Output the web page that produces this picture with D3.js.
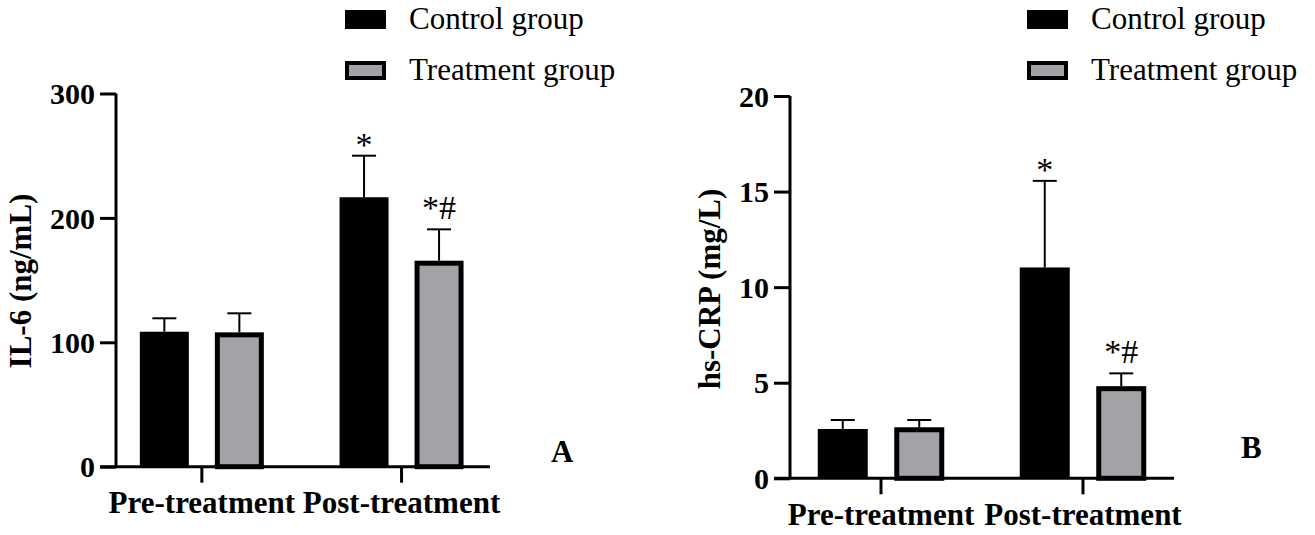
<!DOCTYPE html>
<html>
<head>
  <meta charset="utf-8">
  <title>IL-6 and hs-CRP bar charts</title>
  <script src="https://cdn.jsdelivr.net/npm/d3@7"></script>
  <style>
    body { margin: 0; background: #fff; }
    svg text { font-family: "Liberation Serif", "Times New Roman", serif; fill: #000; }
  </style>
</head>
<body>
<script>

// ---- data ----
var groups = ["Pre-treatment", "Post-treatment"];
var series = ["Control group", "Treatment group"];

var il6Control = [108.5, 216.6];
var il6ControlSd = [10.8, 33.4];
var il6Treatment = [108, 165.6];
var il6TreatmentSd = [15.3, 25.2];
var il6Ticks = [0, 100, 200, 300];

var crpControl = [2.58, 11.03];
var crpControlSd = [0.47, 4.53];
var crpTreatment = [2.67, 4.82];
var crpTreatmentSd = [0.38, 0.67];
var crpTicks = [0, 5, 10, 15, 20];

// significance marks, [group][series]
var sigMarks = [["", ""], ["*", "*#"]];

var colors = {"Control group": "#000", "Treatment group": "#a3a3a7"};

var svg = d3.select("body").append("svg")
    .attr("width", 1315)
    .attr("height", 535);

function drawPanel(p) {
  var g = svg.append("g");

  var y = d3.scaleLinear()
      .domain([0, d3.max(p.ticks)])
      .range([p.bottom, p.top]);

  var x = d3.scaleBand()
      .domain(groups)
      .range([p.xStart, p.xEnd]);

  var bw = x.bandwidth();
  var xs = d3.scaleBand()
      .domain(series)
      .range([bw / 2 - p.half, bw / 2 + p.half])
      .paddingInner(p.pad);

  var rows = [];
  groups.forEach(function(grp, i) {
    rows.push({group: grp, s: series[0], v: p.control[i], sd: p.controlSd[i], mark: sigMarks[i][0]});
    rows.push({group: grp, s: series[1], v: p.treat[i], sd: p.treatSd[i], mark: sigMarks[i][1]});
  });

  var sw = 5; // border of treatment bars
  var markSize = 34;

  var bars = g.selectAll(".bar")
    .data(rows)
    .enter().append("g")
      .attr("class", "bar")
      .attr("transform", function(d) { return "translate(" + (x(d.group) + xs(d.s)) + ",0)"; });

  // error bars (upper only)
  bars.append("line")
      .attr("x1", xs.bandwidth() / 2).attr("x2", xs.bandwidth() / 2)
      .attr("y1", function(d) { return y(d.v); })
      .attr("y2", function(d) { return y(d.v + d.sd); })
      .attr("stroke", "#000").attr("stroke-width", 2);
  bars.append("line")
      .attr("x1", xs.bandwidth() / 2 - 12).attr("x2", xs.bandwidth() / 2 + 12)
      .attr("y1", function(d) { return y(d.v + d.sd); })
      .attr("y2", function(d) { return y(d.v + d.sd); })
      .attr("stroke", "#000").attr("stroke-width", 2);

  bars.append("rect")
      .attr("x", function(d) { return d.s == series[1] ? sw / 2 : 0; })
      .attr("width", function(d) { return d.s == series[1] ? xs.bandwidth() - sw : xs.bandwidth(); })
      .attr("y", function(d) { return d.s == series[1] ? y(d.v) + sw / 2 : y(d.v); })
      .attr("height", function(d) { return y(0) - y(d.v) - (d.s == series[1] ? sw / 2 : 0); })
      .attr("fill", function(d) { return colors[d.s]; })
      .attr("stroke", function(d) { return d.s == series[1] ? "#000" : "none"; })
      .attr("stroke-width", sw);

  bars.append("text")
      .attr("x", xs.bandwidth() / 2)
      .attr("y", function(d) {
        var top = y(d.v + d.sd) - 10;
        return d.mark.indexOf("#") >= 0 ? top : top + 0.3 * markSize;
      })
      .attr("text-anchor", "middle")
      .style("font-size", markSize + "px")
      .text(function(d) { return d.mark; });

  // axes
  var yAxis = g.append("g")
      .attr("transform", "translate(" + p.xAxisAt + ",0)")
      .call(d3.axisLeft(y).tickValues(p.ticks).tickSize(16).tickPadding(5));
  yAxis.select(".domain").attr("stroke-width", 3).attr("d", "M0," + y(0) + "V" + y(d3.max(p.ticks)));
  yAxis.selectAll(".tick line").attr("stroke-width", 3);
  yAxis.selectAll(".tick text")
      .style("font-size", "30px").style("font-weight", "bold")
      .attr("dy", "0.34em");

  var xAxis = g.append("g")
      .attr("transform", "translate(0," + p.bottom + ")")
      .call(d3.axisBottom(x).tickSize(16).tickPadding(5));
  xAxis.select(".domain").attr("stroke-width", 3)
      .attr("d", "M" + (p.xAxisAt - 16) + ",0H" + p.axisEnd);
  xAxis.selectAll(".tick line").attr("stroke-width", 3);
  xAxis.selectAll(".tick text")
      .style("font-size", "31px").style("font-weight", "bold")
      .attr("dy", "0.82em");

  g.append("text")
      .attr("transform", "translate(" + p.titleX + "," + p.titleY + ") rotate(-90)")
      .attr("text-anchor", "middle")
      .style("font-size", "31px").style("font-weight", "bold")
      .text(p.title);

  g.append("text")
      .attr("x", p.letterX).attr("y", p.letterY)
      .style("font-size", "31px").style("font-weight", "bold")
      .text(p.letter);

  // legend
  var leg = g.selectAll(".leg")
    .data(series)
    .enter().append("g")
      .attr("transform", function(d, i) { return "translate(" + p.legX + "," + (10 + i * 51) + ")"; });
  leg.append("rect")
      .attr("x", function(d, i) { return i ? 2 : 0; })
      .attr("y", function(d, i) { return i ? 2 : 0; })
      .attr("width", function(d, i) { return i ? 37 : 41; })
      .attr("height", function(d, i) { return i ? 15 : 19; })
      .attr("fill", function(d) { return colors[d]; })
      .attr("stroke", function(d, i) { return i ? "#000" : "none"; })
      .attr("stroke-width", 4);
  leg.append("text")
      .attr("x", 64).attr("y", 19)
      .style("font-size", "31px")
      .text(function(d) { return d; });
}

drawPanel({
  control: il6Control, controlSd: il6ControlSd, treat: il6Treatment, treatSd: il6TreatmentSd,
  ticks: il6Ticks, top: 93.5, bottom: 466.7,
  xStart: 102, xEnd: 501.4, axisEnd: 490, xAxisAt: 116, half: 62, pad: 0.3467,
  title: "IL-6 (ng/mL)", titleX: 31, titleY: 281, letter: "A", letterX: 551, letterY: 462,
  legX: 345
});

drawPanel({
  control: crpControl, controlSd: crpControlSd, treat: crpTreatment, treatSd: crpTreatmentSd,
  ticks: crpTicks, top: 96, bottom: 478.3,
  xStart: 780, xEnd: 1184, axisEnd: 1174, xAxisAt: 790, half: 63.25, pad: 0.3464,
  title: "hs-CRP (mg/L)", titleX: 720, titleY: 289, letter: "B", letterX: 1241, letterY: 458,
  legX: 1027
});

</script>
</body>
</html>
